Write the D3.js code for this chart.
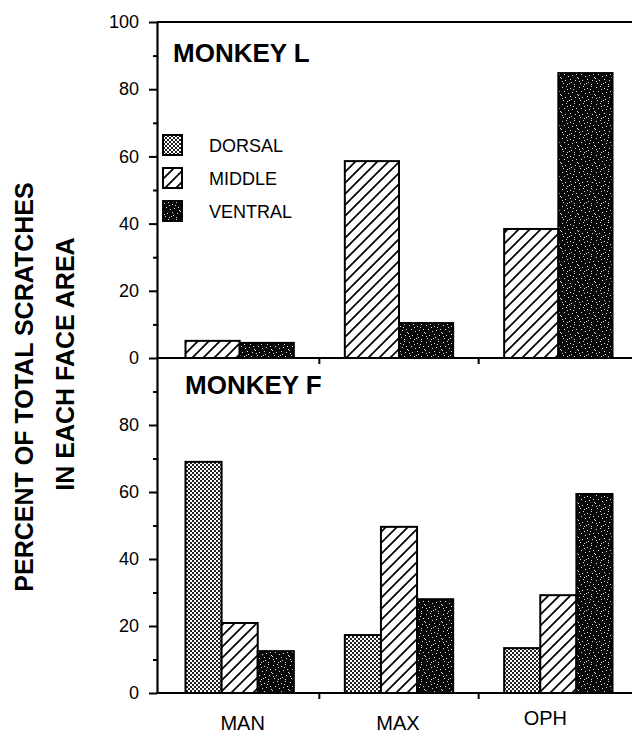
<!DOCTYPE html>
<html><head><meta charset="utf-8">
<script src="https://cdn.jsdelivr.net/npm/d3@7"></script>
<style>
body{margin:0;background:#fff}
svg{display:block}
text{font-family:"Liberation Sans",Arial,Helvetica,sans-serif;fill:#000}
</style>
</head><body>
<svg id="c" width="632" height="736"></svg>
<script>
// ---------- DATA ----------
const categories = ["MAN", "MAX", "OPH"];
const seriesNames = ["DORSAL", "MIDDLE", "VENTRAL"];
const monkeyLSeries = ["MIDDLE", "VENTRAL"];
const monkeyLMiddle = [5.1, 58.6, 38.4];
const monkeyLVentral = [4.5, 10.4, 84.8];
const monkeyFSeries = ["DORSAL", "MIDDLE", "VENTRAL"];
const monkeyFDorsal = [69, 17.3, 13.4];
const monkeyFMiddle = [20.9, 49.6, 29.2];
const monkeyFVentral = [12.5, 28, 59.4];
const yTicksUpper = [0, 20, 40, 60, 80, 100];
const yTicksLower = [0, 20, 40, 60, 80];
const yMinorTicks = [10, 30, 50, 70, 90];
const panelTitles = ["MONKEY L", "MONKEY F"];
const yTitleLines = ["PERCENT OF TOTAL SCRATCHES", "IN EACH FACE AREA"];

// ---------- LAYOUT ----------
const svg = d3.select("#c");
const axisX = 157;
const rightX = 632;

const x = d3.scaleBand().domain(categories).range([160, 638])
  .paddingInner(0.32).paddingOuter(0.16);

const panels = [
  { title: panelTitles[0], series: monkeyLSeries,
    values: { MIDDLE: monkeyLMiddle, VENTRAL: monkeyLVentral },
    y: d3.scaleLinear().domain([0, 100]).range([358, 22]),
    ticks: yTicksUpper, titleX: 173, titleY: 62 },
  { title: panelTitles[1], series: monkeyFSeries,
    values: { DORSAL: monkeyFDorsal, MIDDLE: monkeyFMiddle, VENTRAL: monkeyFVentral },
    y: d3.scaleLinear().domain([0, 100]).range([693, 358]),
    ticks: yTicksLower, titleX: 185, titleY: 394 }
];

// ---------- PATTERNS ----------
const defs = svg.append("defs");
const pD = defs.append("pattern").attr("id", "p-DORSAL")
  .attr("patternUnits", "userSpaceOnUse").attr("width", 4).attr("height", 4);
pD.append("rect").attr("width", 4).attr("height", 4).attr("fill", "#fff");
pD.append("rect").attr("x", 0).attr("y", 0).attr("width", 2).attr("height", 2).attr("fill", "#222");
pD.append("rect").attr("x", 2).attr("y", 2).attr("width", 2).attr("height", 2).attr("fill", "#222");

const pM = defs.append("pattern").attr("id", "p-MIDDLE")
  .attr("patternUnits", "userSpaceOnUse").attr("width", 11).attr("height", 11);
pM.append("rect").attr("width", 11).attr("height", 11).attr("fill", "#fff");
pM.append("path").attr("d", "M-1,12L12,-1M-1,1L1,-1M10,12L12,10")
  .attr("stroke", "#000").attr("stroke-width", 1.7);

const pV = defs.append("pattern").attr("id", "p-VENTRAL")
  .attr("patternUnits", "userSpaceOnUse").attr("width", 17).attr("height", 17);
pV.append("rect").attr("width", 17).attr("height", 17).attr("fill", "#080808");
[[1,2],[5,1],[9,3],[13,1],[15,6],[3,6],[7,8],[11,7],[0,10],[4,12],[9,11],[14,12],
 [2,15],[6,16],[10,14],[13,16],[16,9],[6,4],[12,4],[1,13],[8,15]].forEach(([a,b]) =>
  pV.append("rect").attr("x", a).attr("y", b).attr("width", 1).attr("height", 1).attr("fill", "#ddd"));

// ---------- Y TITLE ----------
const titleG = svg.append("g").attr("font-weight", "bold").attr("font-size", 25);
titleG.append("text").attr("transform", "translate(33,387) rotate(-90)")
  .attr("text-anchor", "middle").text(yTitleLines[0]);
titleG.append("text").attr("transform", "translate(74,364) rotate(-90)")
  .attr("text-anchor", "middle").text(yTitleLines[1]);

// ---------- PANELS ----------
panels.forEach(p => {
  const g = svg.append("g");
  const xs = d3.scaleBand().domain(p.series).range([0, x.bandwidth()]);
  p.series.forEach(s => {
    g.selectAll(null).data(categories.map((c, i) => ({ c, v: p.values[s][i] })))
      .join("rect")
      .attr("x", d => x(d.c) + xs(s))
      .attr("width", xs.bandwidth())
      .attr("y", d => p.y(d.v))
      .attr("height", d => p.y(0) - p.y(d.v))
      .attr("fill", `url(#p-${s})`)
      .attr("stroke", "#000").attr("stroke-width", 2);
  });
  g.append("line").attr("x1", axisX).attr("x2", rightX)
    .attr("y1", p.y(0)).attr("y2", p.y(0)).attr("stroke", "#000").attr("stroke-width", 2);
  categories.slice(1).forEach(c => {
    const bx = x(c) - x.step() * x.paddingInner() / 2;
    g.append("line").attr("x1", bx).attr("x2", bx)
      .attr("y1", p.y(0)).attr("y2", p.y(0) + 6).attr("stroke", "#000").attr("stroke-width", 2);
  });
  const ax = g.append("g").attr("transform", `translate(${axisX},0)`)
    .call(d3.axisLeft(p.y).tickValues(p.ticks).tickSize(8).tickPadding(10).tickSizeOuter(0));
  ax.select(".domain").attr("stroke-width", 2.2);
  ax.selectAll(".tick line").attr("stroke-width", 2);
  ax.selectAll(".tick text").attr("font-size", 18).attr("font-family", '"Liberation Sans",Arial,sans-serif');
  const mx = g.append("g").attr("transform", `translate(${axisX},0)`)
    .call(d3.axisLeft(p.y).tickValues(yMinorTicks).tickSize(4).tickFormat(""));
  mx.select(".domain").remove();
  mx.selectAll(".tick line").attr("stroke-width", 2);
  g.append("text").attr("x", p.titleX).attr("y", p.titleY)
    .attr("font-size", 26).attr("font-weight", "bold").text(p.title);
});

svg.append("line").attr("x1", axisX).attr("x2", rightX).attr("y1", 22).attr("y2", 22)
  .attr("stroke", "#000").attr("stroke-width", 2);

// ---------- LEGEND ----------
const legend = svg.append("g").attr("transform", "translate(163,135)");
seriesNames.forEach((s, i) => {
  const lg = legend.append("g").attr("transform", `translate(0,${i * 33})`);
  lg.append("rect").attr("width", 19).attr("height", 20)
    .attr("fill", `url(#p-${s})`).attr("stroke", "#000").attr("stroke-width", 2);
  lg.append("text").attr("x", 46).attr("y", 17).attr("font-size", 18).text(s);
});

// ---------- CATEGORY LABELS ----------
const labelDx = [3, -1, -13], labelDy = [0, 0, -5];
svg.append("g").selectAll("text").data(categories).join("text")
  .attr("x", (d, i) => x(d) + x.bandwidth() / 2 + labelDx[i])
  .attr("y", (d, i) => 730 + labelDy[i])
  .attr("text-anchor", "middle").attr("font-size", 20).text(d => d);
</script>
</body></html>
